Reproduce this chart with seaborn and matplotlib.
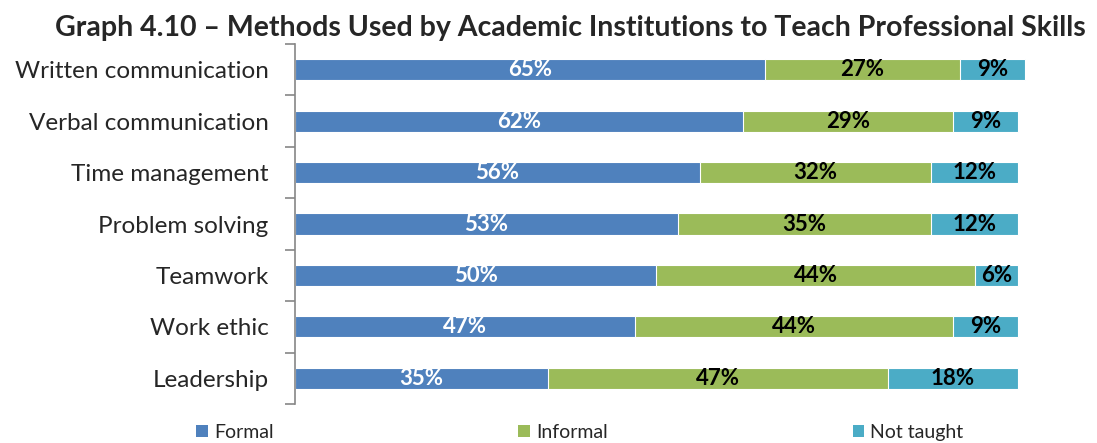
import matplotlib
matplotlib.use("Agg")
import matplotlib.pyplot as plt
from matplotlib.patches import Patch
import numpy as np
import pandas as pd
import seaborn as sns

skills = ["Written communication", "Verbal communication", "Time management",
          "Problem solving", "Teamwork", "Work ethic", "Leadership"]
formal = [65, 62, 56, 53, 50, 47, 35]
informal = [27, 29, 32, 35, 44, 44, 47]
not_taught = [9, 9, 12, 12, 6, 9, 18]
series = ["Formal", "Informal", "Not taught"]
colors = ["#4F81BD", "#9BBB59", "#4BACC6"]
title = "Graph 4.10 \u2013 Methods Used by Academic Institutions to Teach Professional Skills"

sns.set_theme(style="white")
plt.rcParams["font.family"] = ["Lato", "DejaVu Sans"]

df = pd.DataFrame({"skill": skills, "Formal": formal,
                   "Informal": informal, "Not taught": not_taught})
df["cum1"] = df["Formal"]
df["cum2"] = df["Formal"] + df["Informal"]
df["cum3"] = df["cum2"] + df["Not taught"]

fig = plt.figure(figsize=(10.97, 4.43), dpi=100)
ax = fig.add_axes([0.2689, 0.088, 0.6689, 0.8127])

# stacked bars drawn as overlapping cumulative totals
for col, c in zip(["cum3", "cum2", "cum1"], colors[::-1]):
    sns.barplot(data=df, x=col, y="skill", order=skills, color=c, orient="h",
                width=0.41, saturation=1, edgecolor="white", linewidth=0.8, ax=ax)

ax.set_xlim(0, 101.5)
ax.set_ylim(len(skills) - 0.5, -0.5)
ax.set_xlabel("")
ax.set_ylabel("")
ax.set_xticks([])

# value labels centred in each segment
for i in range(len(skills)):
    starts = [0, df["cum1"][i], df["cum2"][i]]
    vals = [formal[i], informal[i], not_taught[i]]
    for s, v, tc in zip(starts, vals, ["white", "black", "black"]):
        ax.text(s + v / 2, i, f"{v}%", ha="center", va="center",
                color=tc, fontsize=16, fontweight="bold")

for sp in ["top", "right", "bottom"]:
    ax.spines[sp].set_visible(False)
ax.spines["left"].set_color("#868686")
ax.spines["left"].set_linewidth(1.2)

ax.set_yticks(range(len(skills)))
ax.set_yticklabels(skills, fontsize=17.5)
ax.tick_params(axis="y", which="major", length=0, pad=19)
ax.set_yticks(np.arange(-0.5, len(skills)), minor=True)
ax.tick_params(axis="y", which="minor", length=7, width=1.2, color="#868686", left=True)

fig.text(0.52, 0.918, title, ha="center", va="baseline", fontsize=20.5, fontweight="bold")

handles = [Patch(facecolor=c, edgecolor="none") for c in colors]
fig.legend(handles, series, loc="lower left", bbox_to_anchor=(0.163, -0.035), ncol=3,
           frameon=False, fontsize=14, handlelength=0.6, handleheight=0.6,
           handletextpad=0.3, columnspacing=12.6)

fig.savefig("out.png", dpi=100)
